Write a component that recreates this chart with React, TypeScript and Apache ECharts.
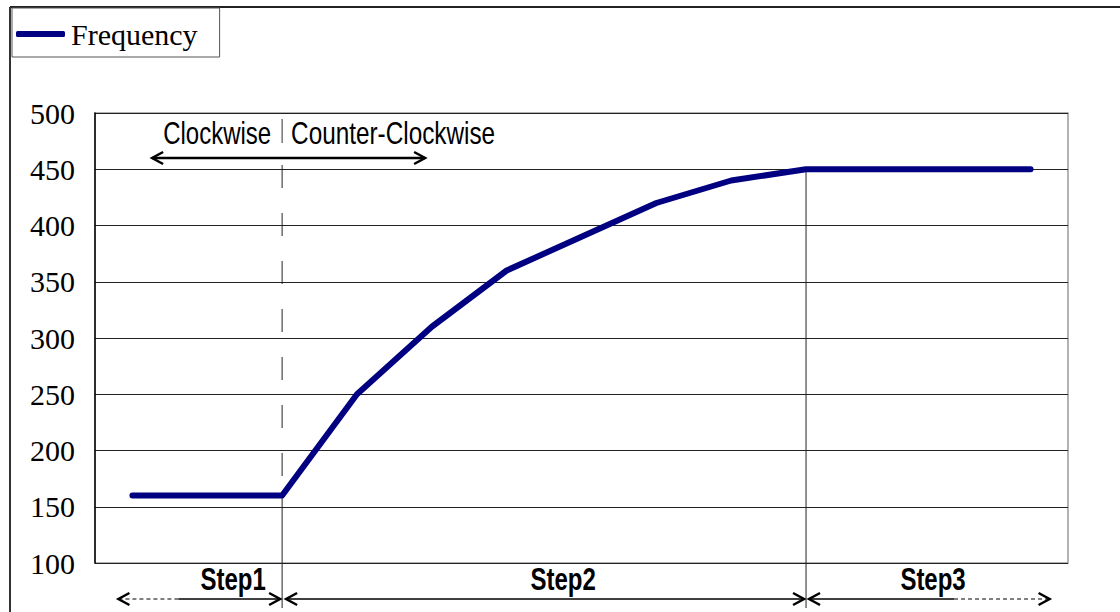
import React, { useEffect, useRef } from "react";
import * as echarts from "echarts";

const categories = ["P1", "P2", "P3", "P4", "P5", "P6", "P7", "P8", "P9", "P10", "P11", "P12", "P13"];
const frequency = [160, 160, 160, 250, 310, 360, 390, 420, 440, 450, 450, 450, 450];
const seriesName = "Frequency";
const yMin = 100;
const yMax = 500;
const yInterval = 50;
const directionLabels = ["Clockwise", "Counter-Clockwise"];
const stepLabels = ["Step1", "Step2", "Step3"];
const stepBoundaries = [2, 9]; // category indices where steps change

export default function App() {
  const ref = useRef<HTMLDivElement>(null);

  useEffect(() => {
    const chart = echarts.init(ref.current!, null, { renderer: "svg" });
    chart.setOption({
      animation: false,
      backgroundColor: "#ffffff",
      legend: {
        show: true,
        left: 12,
        top: 8,
        padding: [11, 22, 8, 4],
        borderColor: "#555",
        borderWidth: 1,
        borderRadius: 0,
        itemWidth: 49,
        itemHeight: 6,
        itemGap: 0,
        icon: "roundRect",
        data: [{ name: seriesName }],
        textStyle: {
          fontFamily: '"Liberation Serif", serif',
          fontSize: 30,
          color: "#000",
          padding: [0, 0, 0, 1],
        },
      },
      grid: {
        left: 95,
        top: 113,
        width: 973,
        height: 450,
        show: true,
        borderColor: "#999",
        borderWidth: 1.5,
        containLabel: false,
      },
      xAxis: {
        type: "category",
        data: categories,
        boundaryGap: true,
        axisLine: { show: false },
        axisTick: { show: false },
        axisLabel: { show: false },
        splitLine: { show: false },
      },
      yAxis: {
        type: "value",
        min: yMin,
        max: yMax,
        interval: yInterval,
        axisLine: { show: true, lineStyle: { color: "#000", width: 1.5 } },
        axisTick: { show: false },
        axisLabel: {
          margin: 20,
          fontFamily: '"Liberation Serif", serif',
          fontSize: 30,
          color: "#000",
          padding: [4, 0, 0, 0],
        },
        splitLine: { show: true, lineStyle: { color: "#222", width: 1 } },
      },
      series: [
        {
          name: seriesName,
          type: "line",
          data: frequency,
          symbol: "none",
          lineStyle: { color: "#000080", width: 6, cap: "round", join: "round" },
          itemStyle: { color: "#000080" },
          z: 5,
        },
      ],
    });

    const px = (i: number) => chart.convertToPixel({ xAxisIndex: 0 }, categories[i]) as number;
    const py = (v: number) => chart.convertToPixel({ yAxisIndex: 0 }, v) as number;

    const b1 = px(stepBoundaries[0]);
    const b2 = px(stepBoundaries[1]);
    const xFirst = px(0);
    const xLast = px(categories.length - 1);
    const yTop = py(yMax);
    const bottomY = 608;
    const arrowY = 599;
    const lineColor = "#222";

    const chevron = (x: number, y: number, dir: number) => ({
      type: "polyline",
      shape: { points: [[x - dir * 11, y - 6], [x, y], [x - dir * 11, y + 6]] },
      style: { stroke: "#000", lineWidth: 2.5, fill: "none" },
      z: 10,
    });
    const hLine = (x1: number, x2: number, y: number, dashed = false, w = 1.5) => ({
      type: "line",
      shape: { x1, y1: y, x2, y2: y },
      style: { stroke: "#000", lineWidth: w, lineDash: dashed ? [4, 3] : null },
      z: 10,
    });
    const label = (text: string, x: number, y: number, align: string, bold: boolean, sx: number) => ({
      type: "text",
      x,
      y,
      scaleX: sx,
      style: {
        text,
        font: `${bold ? "bold " : ""}32px "Liberation Sans", Arial, sans-serif`,
        fill: "#000",
        textAlign: align,
        align,
        textVerticalAlign: "middle",
        verticalAlign: "middle",
      },
      z: 10,
    });

    const yDataB1 = py(frequency[stepBoundaries[0]]);
    const yDataB2 = py(frequency[stepBoundaries[1]]);
    const topArrowY = 158;

    const graphic: any[] = [
      // outer frame (top and left)
      { type: "line", shape: { x1: 10, y1: 7, x2: 1120, y2: 7 }, style: { stroke: "#222", lineWidth: 2 }, z: 1 },
      { type: "line", shape: { x1: 10, y1: 7, x2: 10, y2: 612 }, style: { stroke: "#333", lineWidth: 2 }, z: 1 },
      // divider at step1/step2: dashed part and solid part
      {
        type: "line",
        shape: { x1: b1, y1: topArrowY + 7, x2: b1, y2: yDataB1 },
        style: { stroke: lineColor, lineWidth: 1, lineDash: [23, 25] },
        z: 3,
      },
      { type: "line", shape: { x1: b1, y1: yDataB1, x2: b1, y2: bottomY }, style: { stroke: lineColor, lineWidth: 1 }, z: 3 },
      // divider at step2/step3
      { type: "line", shape: { x1: b2, y1: yDataB2, x2: b2, y2: bottomY }, style: { stroke: lineColor, lineWidth: 1 }, z: 3 },
      // separator between direction labels
      { type: "line", shape: { x1: b1, y1: yTop + 6, x2: b1, y2: yTop + 30 }, style: { stroke: "#333", lineWidth: 1 }, z: 3 },
      label(directionLabels[0], b1 - 11, yTop + 20, "right", false, 0.75),
      label(directionLabels[1], b1 + 9, yTop + 20, "left", false, 0.76),
      // direction arrow
      hLine(b1 - 130, b1 + 143, topArrowY, false, 2.5),
      chevron(b1 - 130, topArrowY, -1),
      chevron(b1 + 143, topArrowY, 1),
      // step labels
      label(stepLabels[0], b1 - 49, 579, "center", true, 0.75),
      label(stepLabels[1], (b1 + b2) / 2 + 19, 579, "center", true, 0.75),
      label(stepLabels[2], b2 + 127, 579, "center", true, 0.75),
      // step1 arrow
      hLine(xFirst - 14, xFirst + 46, arrowY, true, 1.2),
      chevron(xFirst - 14, arrowY, -1),
      hLine(xFirst + 46, b1 - 2, arrowY, false, 1.5),
      chevron(b1 - 2, arrowY, 1),
      // step2 arrow
      hLine(b1 + 4, b2 - 2, arrowY, false, 1.5),
      chevron(b1 + 4, arrowY, -1),
      chevron(b2 - 2, arrowY, 1),
      // step3 arrow
      hLine(b2 + 3, b2 + 148, arrowY, false, 1.5),
      chevron(b2 + 3, arrowY, -1),
      hLine(b2 + 148, xLast + 19, arrowY, true, 1.2),
      chevron(xLast + 19, arrowY, 1),
    ];

    chart.setOption({ graphic });

    return () => chart.dispose();
  }, []);

  return (
    <div
      ref={ref}
      style={{ position: "absolute", left: 0, top: 0, width: 1120, height: 612, background: "#fff" }}
    />
  );
}
